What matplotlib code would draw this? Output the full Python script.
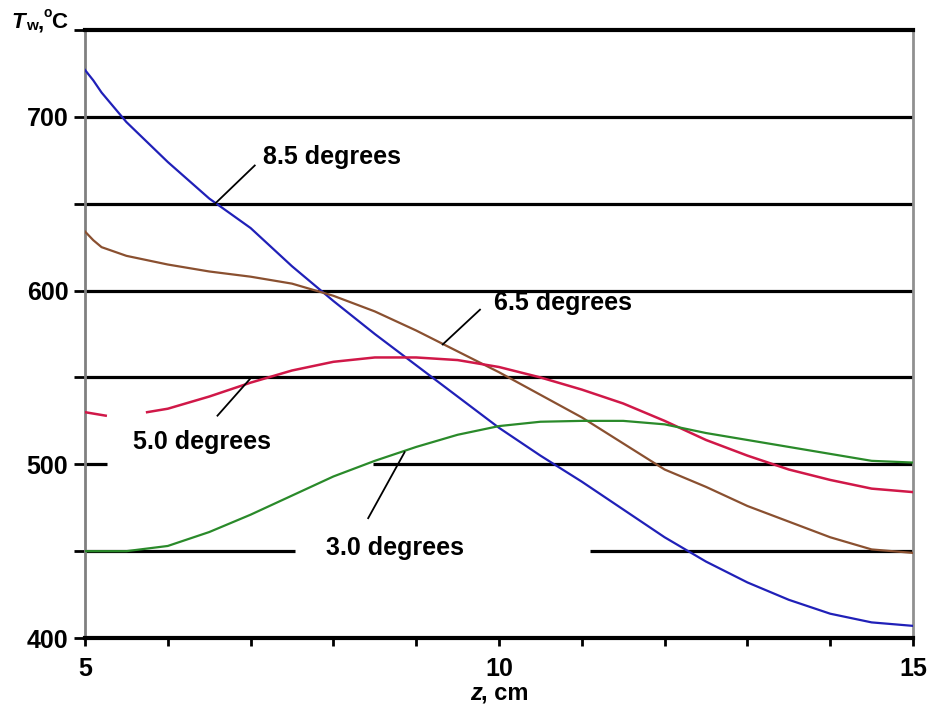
import numpy as np
import matplotlib.pyplot as plt

plt.rcParams['font.family'] = ['Liberation Sans', 'DejaVu Sans']
plt.rcParams['font.weight'] = 'bold'

# wall temperature vs z for four cone angles
z = [5, 5.1, 5.2, 5.5, 6, 6.5, 7, 7.5, 8, 8.5, 9, 9.5, 10, 10.5, 11, 11.5, 12, 12.5, 13, 13.5, 14, 14.5, 15]
t_85 = [727, 721, 714, 697, 674, 653, 636, 614, 594, 575, 557, 539, 521, 505, 490, 474, 458, 444, 432, 422, 414, 409, 407]
t_65 = [634, 629, 625, 620, 615, 611, 608, 604, 597, 588, 577, 565, 553, 540, 527, 512, 497, 487, 476, 467, 458, 451, 449]
t_30 = [450, 450, 450, 450, 453, 461, 471, 482, 493, 502, 510, 517, 522, 524.5, 525, 525, 523, 518, 514, 510, 506, 502, 501]

# the 5.0 curve has a break near the start
z_50 = [5, 5.25, 5.26, 5.75, 6, 6.5, 7, 7.5, 8, 8.5, 9, 9.5, 10, 10.5, 11, 11.5, 12, 12.5, 13, 13.5, 14, 14.5, 15]
t_50 = [530, 528, np.nan, 530, 532, 539, 547, 554, 559, 561.5, 561.5, 560, 556, 550, 543, 535, 525, 514, 505, 497, 491, 486, 484]

labels = ['8.5 degrees', '6.5 degrees', '5.0 degrees', '3.0 degrees']
label_xy = [(7.15, 677), (9.94, 593), (5.58, 513), (7.91, 452)]
arrow_from = [(7.05, 672), (9.77, 589), (6.6, 528), (8.42, 469)]
arrow_to = [(6.57, 650), (9.32, 569), (6.99, 549), (8.86, 507)]

fig = plt.figure(figsize=(9.31, 7.09), dpi=100)
ax = fig.add_axes([0.0913, 0.1001, 0.8894, 0.8576])

# grid lines, some interrupted where the labels sit
ax.hlines([550, 600, 650, 700], 5, 15, color='black', lw=2.3, zorder=1)
ax.hlines(450, 5, 7.54, color='black', lw=2.3, zorder=1)
ax.hlines(450, 11.1, 15, color='black', lw=2.3, zorder=1)
ax.hlines(500, 5, 5.27, color='black', lw=2.3, zorder=1)
ax.hlines(500, 8.48, 15, color='black', lw=2.3, zorder=1)

ax.plot(z, t_85, color='#2020b8', lw=1.6, zorder=3)
ax.plot(z, t_65, color='#8a5030', lw=1.6, zorder=3)
ax.plot(z_50, t_50, color='#d01848', lw=1.8, zorder=3)
ax.plot(z, t_30, color='#2a8a2a', lw=1.6, zorder=3)

for lab, xy, a0, a1 in zip(labels, label_xy, arrow_from, arrow_to):
    ax.text(xy[0], xy[1], lab, fontsize=18, fontweight='bold', va='center', ha='left')
    ax.plot([a0[0], a1[0]], [a0[1], a1[1]], color='black', lw=1.3, zorder=4)

ax.set_xlim(5, 15)
ax.set_ylim(400, 750)
ax.set_xticks(range(5, 16))
ax.set_xticklabels(['5', '', '', '', '', '10', '', '', '', '', '15'])
ax.set_yticks(range(400, 751, 50))
ax.set_yticklabels(['400', '', '500', '', '600', '', '700', ''])
ax.tick_params(axis='x', length=6, width=2, direction='out', pad=8, labelsize=18, color='black')
ax.tick_params(axis='y', length=8, width=2, direction='out', pad=4, labelsize=18, color='black')
for lab in ax.get_xticklabels() + ax.get_yticklabels():
    lab.set_fontweight('bold')

ax.spines['top'].set_linewidth(3)
ax.spines['bottom'].set_linewidth(3)
ax.spines['left'].set_color('#808080')
ax.spines['left'].set_linewidth(2)
ax.spines['right'].set_color('#909090')
ax.spines['right'].set_linewidth(2)

# y axis title "Tw,°C" built from pieces (pixel positions)
W, H = 931, 709
fig.text(11 / W, 1 - 28 / H, 'T', fontsize=16, fontweight='bold', style='italic', va='baseline')
fig.text(26 / W, 1 - 30 / H, 'w', fontsize=11, fontweight='bold', va='baseline')
fig.text(38 / W, 1 - 28 / H, ',', fontsize=16, fontweight='bold', va='baseline')
fig.text(43 / W, 1 - 17 / H, 'o', fontsize=10, fontweight='bold', va='baseline')
fig.text(51 / W, 1 - 28 / H, 'C', fontsize=16, fontweight='bold', va='baseline')

fig.text(470 / W, 0.022, 'z', fontsize=17, fontweight='bold', style='italic', va='center', ha='left')
fig.text(481 / W, 0.022, ', cm', fontsize=17, fontweight='bold', va='center', ha='left')

fig.savefig('out.png', dpi=100, facecolor='white')
